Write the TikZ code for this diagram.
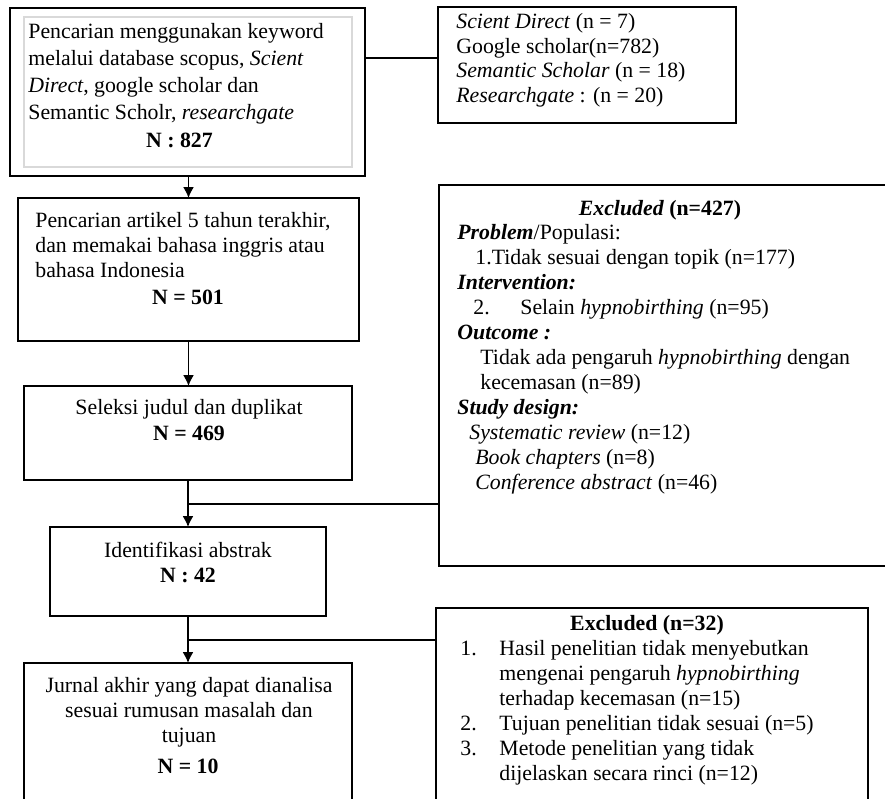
\documentclass[tikz,border=0pt]{standalone}
\usepackage{fontspec}
\setmainfont{Liberation Serif}
\usepackage{tikz}
\usetikzlibrary{arrows.meta, calc}
\tikzstyle{stage} = [rectangle, draw, line width=0.8pt, inner sep=0pt, outer sep=0pt]
\tikzstyle{txt} = [inner sep=0pt, anchor=base west, align=left]
\tikzstyle{ctxt} = [inner sep=0pt, anchor=base, align=center]
\tikzstyle{line} = [draw, line width=0.8pt, -{Latex[length=5.5pt, width=5.5pt]}]

\newcommand{\sz}[1]{\fontsize{10.9pt}{#1}\selectfont}

\begin{document}
\begin{tikzpicture}[x=0.5pt, y=-0.5pt]
    \useasboundingbox (0,0) rectangle (885,799);
    \clip (0,0) rectangle (885,799);
    % Nodes
    \node[stage, line width=1pt, minimum width=177.5pt, minimum height=84pt] (search) at (187.5,92) {};
    \node[stage, draw=gray!30, line width=0.6pt, minimum width=164pt, minimum height=75pt] (searchin) at (188,92) {};
    \node[stage, minimum width=149pt, minimum height=58pt] (source) at (587,65) {};
    \node[stage, minimum width=170.5pt, minimum height=71.5pt] (recent) at (188.5,269.5) {};
    \node[stage, minimum width=228pt, minimum height=190.5pt] (excl) at (667,375.5) {};
    \node[stage, minimum width=164pt, minimum height=47pt] (title) at (188,433) {};
    \node[stage, minimum width=138pt, minimum height=44.5pt] (abstr) at (188,571.5) {};
    \node[stage, minimum width=164pt, minimum height=83.5pt] (final) at (188,746.5) {};
    \node[stage, minimum width=216pt, minimum height=111pt] (exclb) at (652,719) {};

    % Texts (base = last line)
    \node[txt, font=\sz{13.6pt}] (searcht) at (28,119.6) {Pencarian menggunakan keyword\\
        melalui database scopus, \textit{Scient}\\
        \textit{Direct}, google scholar dan\\
        Semantic Scholr, \textit{researchgate}};
    \node[ctxt, font=\sz{13pt}] (searchn) at (179.5,147) {\textbf{N : 827}};
    \node[txt, font=\sz{12.2pt}] (sourcet) at (456,102) {\textit{Scient Direct} (n = 7)\\
        Google scholar(n=782)\\
        \textit{Semantic Scholar} (n = 18)\\
        \textit{Researchgate} : (n = 20)};
    \node[txt, font=\sz{12.5pt}] (recentt) at (35,277) {Pencarian artikel 5 tahun terakhir,\\
        dan memakai bahasa inggris atau\\
        bahasa Indonesia};
    \node[ctxt, font=\sz{13pt}] (recentn) at (188,304) {\textbf{N = 501}};
    \node[ctxt, font=\sz{13pt}] (titlet) at (189,440) {Seleksi judul dan duplikat\\ \textbf{N = 469}};
    \node[ctxt, font=\sz{12.5pt}] (abstrt) at (188,582) {Identifikasi abstrak\\ \textbf{N : 42}};
    \node[ctxt, font=\sz{12.5pt}] (finalt) at (189,742) {Jurnal akhir yang dapat dianalisa\\
        sesuai rumusan masalah dan\\ tujuan};
    \node[ctxt, font=\sz{13pt}] (finaln) at (188,773) {\textbf{N = 10}};
    \node[ctxt, font=\sz{12.5pt}] (exclh) at (660,215) {\textbf{\textit{Excluded} (n=427)}};
    \node[txt, font=\sz{12.5pt}] (exclt) at (457,489) {\textbf{\textit{Problem}}/Populasi:\\
        \hspace*{9pt}1.Tidak sesuai dengan topik (n=177)\\
        \textbf{\textit{Intervention:}}\\
        \hspace*{8pt}\makebox[23.5pt][l]{2.}Selain \textit{hypnobirthing} (n=95)\\
        \textbf{\textit{Outcome :}}\\
        \hspace*{11.5pt}Tidak ada pengaruh \textit{hypnobirthing} dengan\\
        \hspace*{11.5pt}kecemasan (n=89)\\
        \textbf{\textit{Study design:}}\\
        \hspace*{6pt}\textit{Systematic review} (n=12)\\
        \hspace*{9pt}\textit{Book chapters} (n=8)\\
        \hspace*{9pt}\textit{Conference abstract} (n=46)};
    \node[ctxt, font=\sz{12.5pt}] (exclbh) at (647,630) {\textbf{Excluded (n=32)}};
    \node[txt, font=\sz{12.5pt}] (exclbt) at (460,780) {\makebox[19.5pt][l]{1.}Hasil penelitian tidak menyebutkan\\
        \hspace*{19.5pt}mengenai pengaruh \textit{hypnobirthing}\\
        \hspace*{19.5pt}terhadap kecemasan (n=15)\\
        \makebox[19.5pt][l]{2.}Tujuan penelitian tidak sesuai (n=5)\\
        \makebox[19.5pt][l]{3.}Metode penelitian yang tidak\\
        \hspace*{19.5pt}dijelaskan secara rinci (n=12)};

    \coordinate (j1) at (0,58);
    \coordinate (j2) at (0,504);
    \coordinate (j3) at (0,640);

    % Edges
    \path[line] (search.south -| recent) -- (recent.north);
    \path[line] (recent.south) -- (recent.south |- title.north);
    \path[line] (title.south) -- (abstr.north);
    \path[line] (abstr.south) -- (final.north);
    \path[draw, line width=0.8pt] (search.east |- j1) -- (source.west |- j1);
    \path[draw, line width=0.8pt] (title.south |- j2) -- (excl.west |- j2);
    \path[draw, line width=0.8pt] (abstr.south |- j3) -- (exclb.west |- j3);
\end{tikzpicture}
\end{document}
